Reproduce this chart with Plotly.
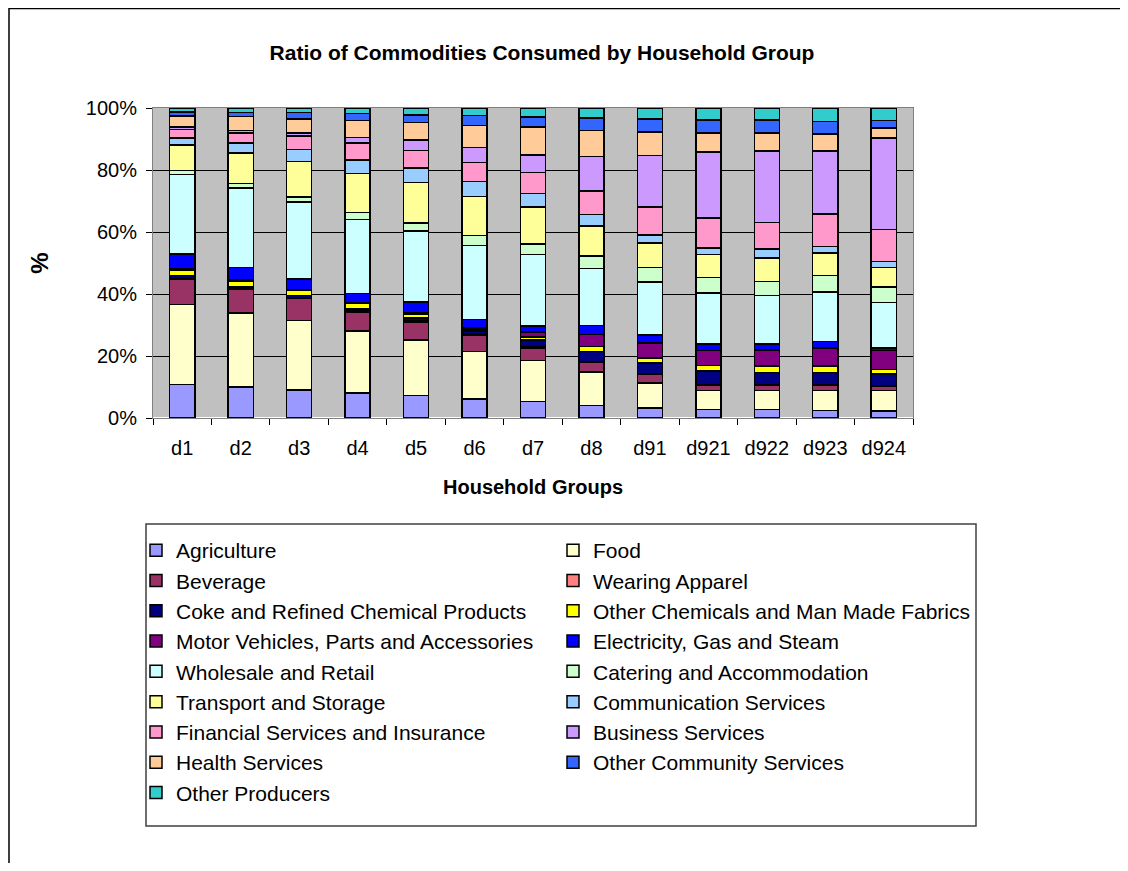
import plotly.graph_objects as go

groups = ['d1', 'd2', 'd3', 'd4', 'd5', 'd6', 'd7', 'd8', 'd91', 'd921', 'd922', 'd923', 'd924']

agriculture = [10.8, 10.0, 9.1, 8.1, 7.2, 6.2, 5.4, 4.1, 3.2, 2.7, 2.7, 2.5, 2.2]
food = [25.8, 23.9, 22.4, 19.9, 17.9, 15.3, 13.2, 10.7, 8.1, 6.1, 6.1, 6.3, 6.6]
beverage = [8.3, 7.7, 7.0, 6.2, 5.8, 5.2, 4.0, 3.2, 2.9, 1.7, 1.7, 1.7, 1.4]
wearing_apparel = [0.5, 0.4, 0.4, 0.4, 0.4, 0.4, 0.4, 0.2, 0.2, 0.3, 0.3, 0.3, 0.2]
coke = [0.5, 0.5, 0.6, 0.6, 0.9, 0.9, 2.1, 3.3, 3.3, 4.3, 3.9, 3.9, 3.8]
other_chemicals = [1.7, 1.6, 1.6, 1.7, 1.3, 0.7, 1.0, 1.6, 1.7, 1.9, 2.0, 2.0, 1.4]
motor_vehicles = [0.4, 0.4, 0.3, 0.4, 0.6, 0.5, 1.6, 3.8, 4.8, 4.7, 5.3, 5.9, 6.2]
electricity = [4.9, 4.1, 3.4, 2.8, 3.3, 2.5, 1.9, 2.9, 2.5, 2.2, 1.9, 2.1, 0.8]
wholesale = [25.6, 25.6, 24.8, 23.9, 23.0, 24.0, 23.1, 18.4, 17.1, 16.4, 15.6, 15.9, 14.7]
catering = [1.4, 1.4, 1.7, 2.3, 2.5, 3.2, 3.5, 4.0, 4.8, 5.1, 4.6, 5.4, 5.0]
transport = [8.1, 9.9, 11.5, 12.5, 13.1, 12.6, 11.8, 9.8, 7.9, 7.3, 7.5, 7.2, 6.3]
communication = [2.3, 3.2, 3.8, 4.5, 4.6, 4.8, 4.4, 3.6, 2.6, 2.1, 2.9, 2.2, 1.9]
financial = [2.7, 3.2, 4.3, 5.4, 5.7, 6.2, 6.8, 7.7, 9.0, 9.7, 8.6, 10.4, 10.3]
business = [0.9, 0.9, 1.0, 1.8, 3.3, 4.8, 5.7, 11.1, 16.5, 21.3, 23.1, 20.4, 29.5]
health = [3.6, 4.5, 4.6, 5.5, 5.8, 7.0, 9.0, 8.4, 7.7, 6.1, 5.7, 5.4, 3.2]
other_community = [1.2, 1.3, 2.1, 2.2, 2.4, 3.3, 3.2, 4.0, 4.2, 4.3, 4.3, 4.1, 2.4]
other_producers = [1.3, 1.4, 1.4, 1.8, 2.2, 2.4, 2.9, 3.2, 3.5, 3.8, 3.8, 4.3, 4.1]

series = [
    ('Agriculture', agriculture, '#9999FF'),
    ('Food', food, '#FFFFCC'),
    ('Beverage', beverage, '#993366'),
    ('Wearing Apparel', wearing_apparel, '#FF8080'),
    ('Coke and Refined Chemical Products', coke, '#000080'),
    ('Other Chemicals and Man Made Fabrics', other_chemicals, '#FFFF00'),
    ('Motor Vehicles, Parts and Accessories', motor_vehicles, '#800080'),
    ('Electricity, Gas and Steam', electricity, '#0000FF'),
    ('Wholesale and Retail', wholesale, '#CCFFFF'),
    ('Catering and Accommodation', catering, '#CCFFCC'),
    ('Transport and Storage', transport, '#FFFF99'),
    ('Communication Services', communication, '#99CCFF'),
    ('Financial Services and Insurance', financial, '#FF99CC'),
    ('Business Services', business, '#CC99FF'),
    ('Health Services', health, '#FFCC99'),
    ('Other Community Services', other_community, '#3366FF'),
    ('Other Producers', other_producers, '#33CCCC'),
]

# the page body adds an 8px margin all round, so the figure is sized to fit inside it
OFF = 8
W, H = 1128 - 2 * OFF, 871 - 2 * OFF
ML, MT = 153 - OFF, 108 - OFF
MR = W - (913 - OFF)
MB = H - (418 - OFF)
PW, PH = W - ML - MR, H - MT - MB
FONT = 'Arial, Liberation Sans, sans-serif'


def px_x(p):
    # page pixel -> paper x
    return (p - OFF - ML) / PW


def px_y(p):
    # page pixel -> paper y
    return (H - MB - (p - OFF)) / PH


fig = go.Figure()
for name, vals, color in series:
    fig.add_bar(x=groups, y=vals, name=name,
                marker=dict(color=color, line=dict(color='black', width=1.5)))

fig.update_layout(
    width=W, height=H,
    margin=dict(l=ML, r=MR, t=MT, b=MB),
    barmode='stack', barnorm='percent', bargap=0.57,
    paper_bgcolor='white', plot_bgcolor='#C0C0C0',
    font=dict(family=FONT, size=20, color='black'),
    title=dict(text='<b>Ratio of Commodities Consumed by Household Group</b>',
               x=(542 - OFF) / W, xref='container', xanchor='center',
               y=1 - (53 - OFF) / H, yref='container', yanchor='middle',
               font=dict(size=21)),
    legend=dict(orientation='h', traceorder='normal',
                x=px_x(136), y=px_y(530), xanchor='left', yanchor='top',
                entrywidth=372, font=dict(size=21),
                bgcolor='rgba(0,0,0,0)', borderwidth=0),
    showlegend=True,
)
fig.update_xaxes(
    showline=True, linecolor='#808080', mirror=True,
    ticks='outside', tickson='boundaries', ticklen=6, tickcolor='black',
    ticklabelstandoff=12,
    title=dict(text='<b>Household Groups</b>', standoff=21, font=dict(size=20)),
)
fig.update_yaxes(
    range=[0, 100], dtick=20, ticksuffix='%',
    showgrid=True, gridcolor='black', gridwidth=1,
    showline=True, linecolor='#808080', mirror=True,
    ticks='outside', ticklen=6, tickcolor='black',
    ticklabelstandoff=5,
    title=dict(text='<b>%</b>', standoff=30, font=dict(size=24)),
)

# legend box
fig.add_shape(type='rect', xref='paper', yref='paper',
              x0=px_x(146), x1=px_x(976), y0=px_y(826), y1=px_y(524),
              line=dict(color='#404040', width=1.5), fillcolor='white', layer='below')
# chart-area frame (only its top and left edges fall inside the picture)
fig.add_shape(type='rect', xref='paper', yref='paper',
              x0=px_x(9), x1=px_x(2000), y0=px_y(2000), y1=px_y(8.5),
              line=dict(color='black', width=1.5), layer='below')

fig.write_html("out.html")
